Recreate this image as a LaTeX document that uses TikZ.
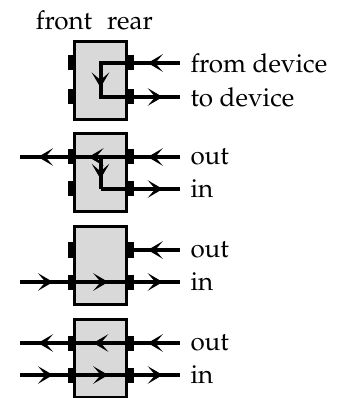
\documentclass[tikz,border=0pt]{standalone}
\usepackage[T1]{fontenc}
\usepackage{mathpazo}
\usetikzlibrary{positioning,arrows.meta,decorations.markings}

\begin{document}
\begin{tikzpicture}[
  x=0.4pt, y=-0.4pt,
  % Node Styles
  devbox/.style={rectangle, draw, line width=1.2pt, fill=gray!30, minimum width=20.8pt, minimum height=31.2pt, inner sep=0pt},
  port/.style={rectangle, fill=black, minimum width=2.4pt, minimum height=6pt, inner sep=0pt},
  sigtext/.style={anchor=west, inner xsep=4pt, inner ysep=0pt},
  % Arrow Styles
  wire/.style={line width=1.6pt},
  midarrow/.style={wire, postaction={decorate}, decoration={markings, mark=at position #1 with {\pgftransformxshift{3pt}\arrow{Stealth[length=6pt,width=7pt,inset=3pt]}}}},
  midarrow/.default=0.5,
]
\tikzset{font=\fontsize{10.4pt}{12pt}\selectfont}
\useasboundingbox (0,0) rectangle (339,398);

% Boxes with their ports

\node[devbox] (box1) at (100.5,80.5) {};
\node[devbox] (box2) at (100.5,173) {};
\node[devbox] (box3) at (100.5,265.5) {};
\node[devbox] (box4) at (100.5,358) {};

\node[anchor=base] (front) at (64,30) {front};
\node[anchor=base] (rear) at (130,30) {rear};

\node[port] (b1-fu) at (71,63) {};
\node[port] (b1-fl) at (71,97) {};
\node[port] (b1-ru) at (130.5,63) {};
\node[port] (b1-rl) at (130.5,97) {};

\node[port] (b2-fu) at (71,157) {};
\node[port] (b2-fl) at (71,189) {};
\node[port] (b2-ru) at (130.5,157) {};
\node[port] (b2-rl) at (130.5,189) {};

\node[port] (b3-fu) at (71,250) {};
\node[port] (b3-fl) at (71,282) {};
\node[port] (b3-ru) at (130.5,250) {};
\node[port] (b3-rl) at (130.5,282) {};

\node[port] (b4-fu) at (71,343) {};
\node[port] (b4-fl) at (71,375) {};
\node[port] (b4-ru) at (130.5,343) {};
\node[port] (b4-rl) at (130.5,375) {};

% Labels on the rear side

\node[sigtext] (l1u) at (180,63) {from device};
\node[sigtext] (l1l) at (180,97) {to device};
\node[sigtext] (l2u) at (180,157) {out};
\node[sigtext] (l2l) at (180,189) {in};
\node[sigtext] (l3u) at (180,250) {out};
\node[sigtext] (l3l) at (180,282) {in};
\node[sigtext] (l4u) at (180,343) {out};
\node[sigtext] (l4l) at (180,375) {in};

% Free ends on the front side and turning points
\coordinate (e2u) at (20,157);
\coordinate (e3l) at (20,282);
\coordinate (e4u) at (20,343);
\coordinate (e4l) at (20,375);
\coordinate (k1u) at (box1.center |- b1-ru);
\coordinate (k1l) at (box1.center |- b1-rl);
\coordinate (k2u) at (box2.center |- b2-ru);
\coordinate (k2l) at (box2.center |- b2-rl);

% 1: loop back to the device
\draw[midarrow] (l1u.west) -- (b1-ru.center);
\draw[midarrow] (b1-ru.center) -- (k1u) -- (k1l) -- (b1-rl.center);
\draw[midarrow] (b1-rl.center) -- (l1l.west);

% 2
\draw[midarrow] (l2u.west) -- (b2-ru.center);
\draw[midarrow=0.58] (b2-ru.center) -- (b2-fu.center);
\draw[midarrow] (b2-fu.center) -- (e2u);
\draw[midarrow=0.45] (k2u) -- (k2l);
\draw[wire] (k2l) -- (b2-rl.center);
\draw[midarrow] (b2-rl.center) -- (l2l.west);

% 3
\draw[midarrow] (l3u.west) -- (b3-ru.center);
\draw[midarrow] (e3l) -- (b3-fl.center);
\draw[midarrow] (b3-fl.center) -- (b3-rl.center);
\draw[midarrow] (b3-rl.center) -- (l3l.west);

% 4
\draw[midarrow] (l4u.west) -- (b4-ru.center);
\draw[midarrow] (b4-ru.center) -- (b4-fu.center);
\draw[midarrow] (b4-fu.center) -- (e4u);
\draw[midarrow] (e4l) -- (b4-fl.center);
\draw[midarrow] (b4-fl.center) -- (b4-rl.center);
\draw[midarrow] (b4-rl.center) -- (l4l.west);

\end{tikzpicture}
\end{document}
